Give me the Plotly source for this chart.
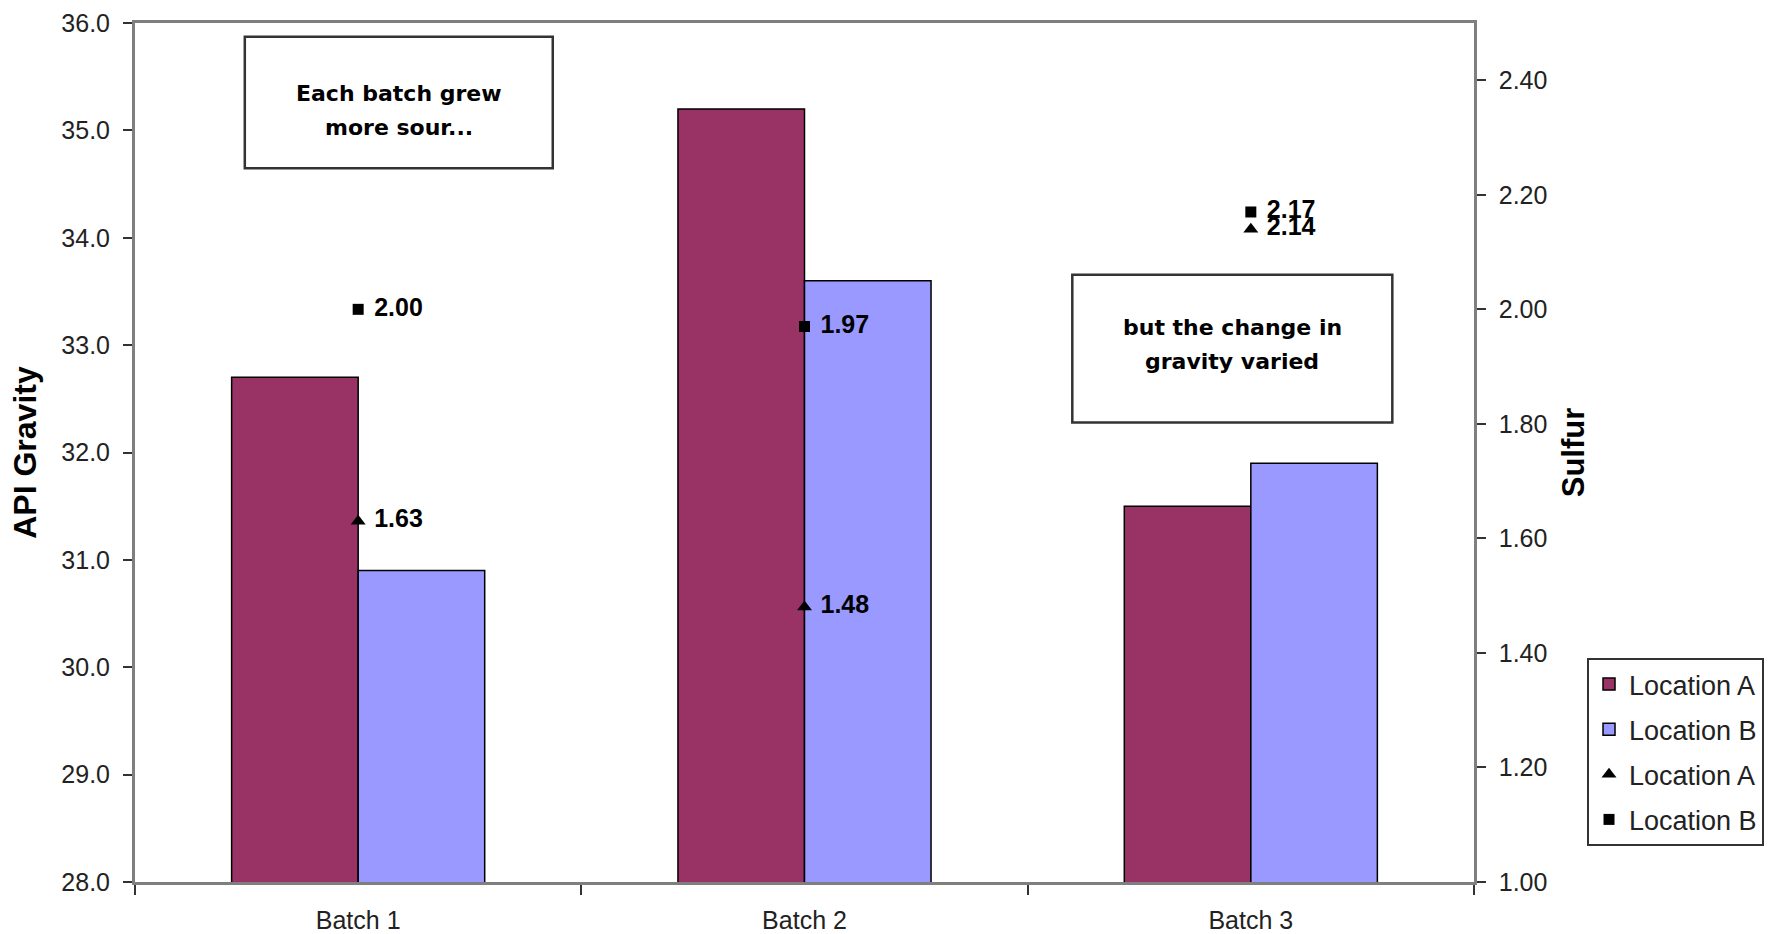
import plotly.graph_objects as go

batches = ["Batch 1", "Batch 2", "Batch 3"]
gravity_a = [32.7, 35.2, 31.5]
gravity_b = [30.9, 33.6, 31.9]
sulfur_a = [1.63, 1.48, 2.14]
sulfur_b = [2.00, 1.97, 2.17]
left_ticks = [28, 29, 30, 31, 32, 33, 34, 35, 36]
right_ticks = [1.0, 1.2, 1.4, 1.6, 1.8, 2.0, 2.2, 2.4]
note1_lines = ["Each batch grew", "more sour..."]
note2_lines = ["but the change in", "gravity varied"]

AX = "#7f7f7f"
TXT = "#222222"
tick_font = dict(family="Liberation Sans, Arial, sans-serif", size=25, color=TXT)

fig = go.Figure()
fig.add_trace(go.Bar(x=batches, y=gravity_a, name="Location A", marker=dict(color="#993366", line=dict(color="black", width=1.5)),
                     legendgroup="g1", yaxis="y"))
fig.add_trace(go.Bar(x=batches, y=gravity_b, name="Location B", marker=dict(color="#9999FF", line=dict(color="black", width=1.5)),
                     legendgroup="g2", yaxis="y"))
fig.add_trace(go.Scatter(x=batches, y=sulfur_a, name="Location A", mode="markers", yaxis="y2",
                         marker=dict(symbol="triangle-up", size=13, color="black"), legendgroup="g3"))
fig.add_trace(go.Scatter(x=batches, y=sulfur_b, name="Location B", mode="markers", yaxis="y2",
                         marker=dict(symbol="square", size=11, color="black"), legendgroup="g4"))
# value labels
for vals in (sulfur_a, sulfur_b):
    fig.add_trace(go.Scatter(x=batches, y=vals, mode="markers+text", yaxis="y2", showlegend=False,
                             text=[f"{v:.2f}" for v in vals], textposition="middle right",
                             marker=dict(size=24, color="rgba(0,0,0,0)"),
                             textfont=dict(family="Liberation Sans, Arial, sans-serif", size=25, color="black", weight="bold"),
                             hoverinfo="skip"))

fig.update_layout(
    width=1775, height=934,
    margin=dict(l=135, r=301, t=23, b=52, autoexpand=False),
    paper_bgcolor="white", plot_bgcolor="white",
    barmode="group", bargap=0.433, bargroupgap=0,
    font=dict(family="Liberation Sans, Arial, sans-serif", color=TXT),
    xaxis=dict(type="category", showline=True, linecolor=AX, linewidth=2.5, mirror=True,
               ticks="outside", tickson="boundaries", ticklen=10, tickcolor="#333", tickwidth=2,
               ticklabelstandoff=14,
               tickfont=tick_font, showgrid=False, zeroline=False),
    yaxis=dict(range=[28, 36], tickvals=left_ticks, tickformat=".1f", showline=True, linecolor=AX, linewidth=3,
               ticks="outside", ticklen=9, tickcolor="#333", tickwidth=2, ticklabelstandoff=8,
               tickfont=tick_font, showgrid=False, zeroline=False,
               title=dict(text="<b>API Gravity</b>", font=dict(size=32, color="black"), standoff=16)),
    yaxis2=dict(range=[1.0, 2.5], tickvals=right_ticks, tickformat=".2f", overlaying="y", side="right",
                showline=True, linecolor=AX, linewidth=2.5, ticks="outside", ticklen=9, tickcolor="#333", tickwidth=2,
                ticklabelstandoff=8, tickfont=tick_font, showgrid=False, zeroline=False,
                title=dict(text="<b>Sulfur</b>", font=dict(size=31, color="black"), standoff=16)),
    legend=dict(x=1.0844, y=0.2607, xanchor="left", yanchor="top", bordercolor="#333", borderwidth=2,
                bgcolor="white", font=dict(size=27, color=TXT), traceorder="grouped", tracegroupgap=7,
                itemwidth=30),
    showlegend=True,
)

# note boxes (paper coordinates)
fig.add_shape(type="rect", xref="paper", yref="paper", x0=0.082, x1=0.312, y0=0.831, y1=0.984,
              line=dict(color="#333", width=2.5), fillcolor="white", layer="above")
fig.add_shape(type="rect", xref="paper", yref="paper", x0=0.700, x1=0.939, y0=0.535, y1=0.707,
              line=dict(color="#333", width=2.5), fillcolor="white", layer="above")

ann_font = dict(family="DejaVu Sans, Verdana, sans-serif", size=22, color="black", weight="bold")
for i, line in enumerate(note1_lines):
    fig.add_annotation(xref="paper", yref="paper", x=0.197, y=0.918 - i * 0.040, xanchor="center", yanchor="middle",
                       text=line, showarrow=False, font=ann_font)
for i, line in enumerate(note2_lines):
    fig.add_annotation(xref="paper", yref="paper", x=0.8193, y=0.645 - i * 0.039, xanchor="center", yanchor="middle",
                       text=line, showarrow=False, font=ann_font)

fig.write_html("out.html")
